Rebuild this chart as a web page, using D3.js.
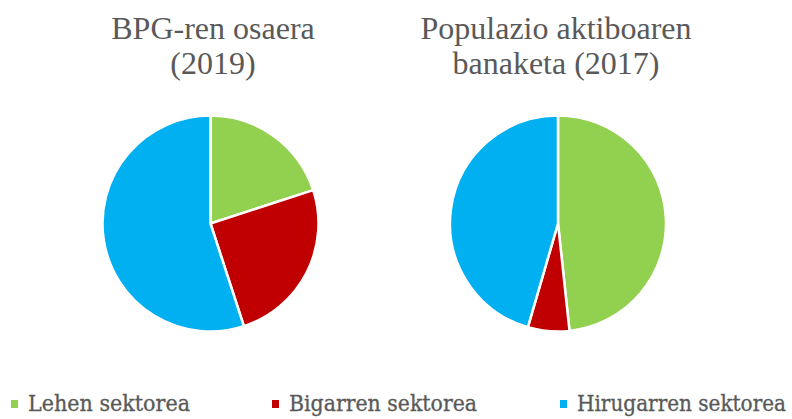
<!DOCTYPE html>
<html>
<head>
<meta charset="utf-8">
<script src="https://cdn.jsdelivr.net/npm/d3@7"></script>
<style>
  body { margin: 0; background: #fff; }
  svg { display: block; }
</style>
</head>
<body>
<div id="chart"></div>
<script>
// data (percent)
const categories = ["Lehen sektorea", "Bigarren sektorea", "Hirugarren sektorea"];
const bpgValues = [20.0, 25.0, 55.0];
const populazioValues = [48.3, 6.2, 45.5];
const titles = [["BPG-ren osaera", "(2019)"], ["Populazio aktiboaren", "banaketa (2017)"]];
const colors = ["#92D050", "#C00000", "#00B0F0"];

const width = 792, height = 419;

const svg = d3.select("#chart").append("svg")
    .attr("width", width)
    .attr("height", height);

const color = d3.scaleOrdinal().domain(categories).range(colors);

const pie = d3.pie().sort(null).value(d => d.value);
const arc = d3.arc().innerRadius(0).outerRadius(108);

const charts = [
    {values: bpgValues, cx: 210.5, tx: 213, title: titles[0]},
    {values: populazioValues, cx: 558, tx: 556, title: titles[1]}
];

charts.forEach(c => {
    let data = categories.map((k, i) => ({key: k, value: c.values[i]}));

    let g = svg.append("g")
        .attr("transform", `translate(${c.cx},223.5)`);

    g.selectAll("path")
        .data(pie(data))
        .enter().append("path")
        .attr("d", arc)
        .attr("fill", d => color(d.data.key))
        .attr("stroke", "#fff")
        .attr("stroke-width", 2.5)
        .attr("stroke-linejoin", "round");

    // title, two lines
    svg.append("text")
        .attr("x", c.tx)
        .attr("text-anchor", "middle")
        .attr("font-family", "'Liberation Serif', 'Times New Roman', serif")
        .attr("font-size", 32)
        .attr("fill", "#595959")
        .selectAll("tspan")
        .data(c.title)
        .enter().append("tspan")
        .attr("x", c.tx)
        .attr("y", (d, i) => 39 + i * 35)
        .text(d => d);
});

// legend
const legendX = [11, 272, 560];
const legendW = [162, 188, 209];

const legend = svg.selectAll(".legend")
    .data(categories)
    .enter().append("g")
    .attr("class", "legend")
    .attr("transform", (d, i) => `translate(${legendX[i]},0)`);

legend.append("rect")
    .attr("x", 0)
    .attr("y", 400)
    .attr("width", 7)
    .attr("height", 8)
    .attr("fill", d => color(d));

legend.append("text")
    .attr("x", 17)
    .attr("y", 411)
    .attr("font-family", "'DejaVu Serif Condensed', 'DejaVu Serif', serif")
    .attr("font-size", 23)
    .attr("fill", "#595959")
    .attr("stroke", "#595959")
    .attr("stroke-width", 0.3)
    .attr("textLength", (d, i) => legendW[i])
    .attr("lengthAdjust", "spacingAndGlyphs")
    .text(d => d);
</script>
</body>
</html>
